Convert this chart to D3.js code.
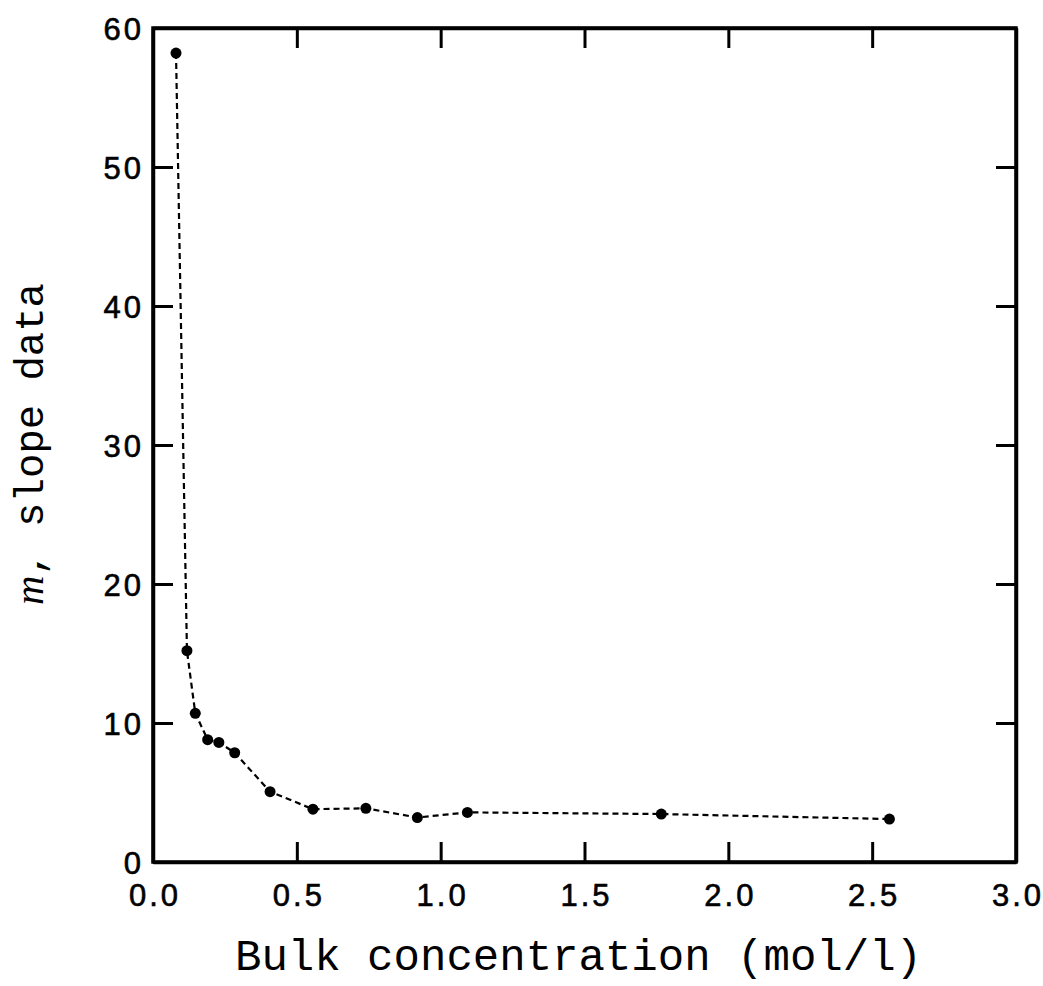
<!DOCTYPE html>
<html><head><meta charset="utf-8">
<script src="https://cdn.jsdelivr.net/npm/d3@7"></script>
<style>body{margin:0;background:#fff}</style>
</head><body>
<svg id="c" width="1043" height="986"></svg>
<script>
const concentration = [0.08, 0.118, 0.147, 0.19, 0.229, 0.284, 0.407, 0.556, 0.74, 0.919, 1.093, 1.767, 2.56];
const slopeM = [58.2, 15.2, 10.7, 8.8, 8.6, 7.86, 5.06, 3.8, 3.86, 3.2, 3.57, 3.45, 3.09];
const xTicks = [0, 0.5, 1.0, 1.5, 2.0, 2.5, 3.0];
const yTicks = [0, 10, 20, 30, 40, 50, 60];

const svg = d3.select("#c");
const L = 153, R = 1016, T = 28, B = 862;
const x = d3.scaleLinear().domain([0, 3]).range([L, R]);
const y = d3.scaleLinear().domain([0, 60]).range([B, T]);
const tickLen = 20;
const sans = "'Liberation Sans', Arial, sans-serif";
const mono = "'Liberation Mono', 'Courier New', monospace";

const gB = svg.append("g").attr("transform", `translate(0,${B})`)
  .call(d3.axisBottom(x).tickValues(xTicks).tickSizeInner(-tickLen).tickSizeOuter(0).tickPadding(44).tickFormat(d3.format(".1f")));
const gT = svg.append("g").attr("transform", `translate(0,${T})`)
  .call(d3.axisTop(x).tickValues(xTicks).tickSizeInner(-tickLen).tickSizeOuter(0).tickFormat(""));
const gL = svg.append("g").attr("transform", `translate(${L},0)`)
  .call(d3.axisLeft(y).tickValues(yTicks).tickSizeInner(-tickLen).tickSizeOuter(0).tickPadding(9).tickFormat(d3.format("d")));
const gR = svg.append("g").attr("transform", `translate(${R},0)`)
  .call(d3.axisRight(y).tickValues(yTicks).tickSizeInner(-tickLen).tickSizeOuter(0).tickFormat(""));

[gB, gT, gL, gR].forEach(g => {
  g.select(".domain").attr("stroke", "#000").attr("stroke-width", 3.5);
  g.selectAll(".tick line").attr("stroke", "#000").attr("stroke-width", 3);
  g.selectAll(".tick text").attr("fill", "#000").attr("font-family", sans)
    .attr("font-size", 31).attr("stroke", "#000").attr("stroke-width", 0.6)
    .style("letter-spacing", "3px");
});
gL.selectAll(".tick text").attr("dy", "0.36em");
gB.selectAll(".tick text").attr("dy", "0").attr("dx", "1.5px");

svg.append("rect").attr("x", L).attr("y", T).attr("width", R - L).attr("height", B - T)
  .attr("fill", "none").attr("stroke", "#000").attr("stroke-width", 3.5);

const pts = concentration.map((c, i) => [c, slopeM[i]]);
svg.append("path").datum(pts)
  .attr("d", d3.line().x(d => x(d[0])).y(d => y(d[1])))
  .attr("fill", "none").attr("stroke", "#000").attr("stroke-width", 2.2)
  .attr("stroke-dasharray", "6,4");
svg.selectAll("circle.pt").data(pts).enter().append("circle")
  .attr("class", "pt").attr("cx", d => x(d[0])).attr("cy", d => y(d[1])).attr("r", 5.5).attr("fill", "#000");

svg.append("text").attr("x", 235).attr("y", 970).attr("font-family", mono).attr("font-size", 44)
  .attr("textLength", 687).attr("lengthAdjust", "spacingAndGlyphs").attr("fill", "#000")
  .text("Bulk concentration (mol/l)");

const yt = svg.append("text").attr("transform", "translate(43,605) rotate(-90)")
  .attr("font-family", mono).attr("font-size", 41).attr("fill", "#000")
  .attr("textLength", 322).attr("lengthAdjust", "spacingAndGlyphs");
yt.append("tspan").attr("font-style", "italic").attr("font-family", "'Liberation Serif', serif").text("m");
yt.append("tspan").text(", slope data");
</script>
</body></html>
